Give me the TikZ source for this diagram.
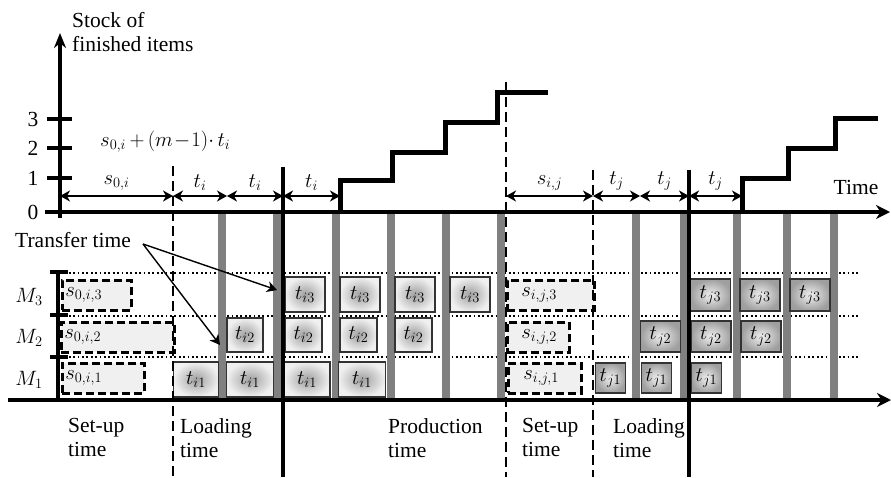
\documentclass[tikz,border=0pt]{standalone}
\usepackage{fontspec}
\setmainfont{Liberation Serif}
\usetikzlibrary{arrows.meta}
\newcommand\fs{\fontsize{21.5}{24}\selectfont}

\begin{document}
\begin{tikzpicture}[x=1pt, y=-1pt, >={Stealth[length=10pt, width=11pt, inset=3pt]},
  every node/.style={font=\fs, inner sep=0pt},
  axis/.style={line width=3.5pt},
  period/.style={line width=2.8pt, dash pattern=on 10pt off 5pt},
  tbar/.style={draw=gray, line width=8pt},
  lane/.style={line width=1.8pt, dash pattern=on 1.8pt off 2.6pt},
  setupbox/.style={draw, line width=2.6pt, dash pattern=on 8pt off 4pt,
    fill=gray!12, minimum height=30pt, align=left},
  ibox/.style={draw=black!80, line width=1.3pt, inner color=gray!75, outer color=gray!12},
  jbox/.style={draw=black!80, line width=1.3pt, inner color=gray!12, outer color=gray!75},
  dim/.style={<->, line width=1.4pt},
  stair/.style={line width=5pt}]
  \useasboundingbox (0,0) rectangle (891,477);
  % machine lanes and transfer bars
  \foreach \y in {273, 316, 357}
    \draw[lane] (60,\y) -- (860,\y);
  \foreach \x in {222, 277, 336, 391, 446, 501, 636, 684, 737, 787, 834}
    \draw[tbar] (\x,212) -- (\x,400);
  % set-up boxes
  \foreach \x/\y/\tw/\pad/\n/\lbl in {61/279/63pt/3pt/s03/{0,i,3}, 60/321/107pt/3pt/s02/{0,i,2},
                                      61/362/76pt/3pt/s01/{0,i,1}, 506/279/59pt/14pt/s13/{i,j,3},
                                      506/321/34pt/14pt/s12/{i,j,2}, 507/362/43pt/15pt/s11/{i,j,1}}
    \node[setupbox, anchor=north west, inner xsep=\pad, text width=\tw] (\n) at (\x,\y) {$s_{\lbl}$};
  % processing boxes
  \foreach \x [count=\k] in {305, 360, 415, 470}
    \node[ibox, minimum width=40pt, minimum height=35pt] (i3\k) at (\x,294.5) {$t_{i3}$};
  \foreach \x/\w [count=\k] in {245/36pt, 303.5/37pt, 358.5/37pt, 413.5/37pt}
    \node[ibox, minimum width=\w, minimum height=34pt] (i2\k) at (\x,335) {$t_{i2}$};
  \foreach \x/\w [count=\k] in {196/45pt, 250/47pt, 307/46pt, 362/47pt}
    \node[ibox, minimum width=\w, minimum height=35pt] (i1\k) at (\x,379.5) {$t_{i1}$};
  \foreach \x [count=\k] in {710.5, 760, 810}
    \node[jbox, minimum width=40pt, minimum height=32pt] (j3\k) at (\x,295) {$t_{j3}$};
  \foreach \x [count=\k] in {660.5, 711, 761}
    \node[jbox, minimum width=40pt, minimum height=31pt] (j2\k) at (\x,336.5) {$t_{j2}$};
  \foreach \x [count=\k] in {610.5, 656.5, 706.5}
    \node[jbox, minimum width=30pt, minimum height=30pt] (j1\k) at (\x,378) {$t_{j1}$};
  % axes
  \draw[axis, -{Stealth[length=15pt, width=12pt]}] (60,218) -- (60,33);
  \draw[axis, -{Stealth[length=14pt, width=14pt]}] (45,212) -- (890,212);
  \draw[axis, -{Stealth[length=14pt, width=14pt]}] (8,400) -- (891,400);
  \draw[axis] (58,272) -- (58,400);
  \foreach \y in {272, 315, 357}
    \draw[axis] (50,\y) -- (68,\y);
  \foreach \y/\n in {178/1, 148/2, 119/3}
    \draw[axis] (47,\y) -- (72,\y);
  \foreach \y/\n in {212/0, 178/1, 148/2, 119/3}
    \node (v\n) at (33,\y) {\n};
  \foreach \y/\m in {297/3, 338/2, 380/1}
    \node (m\m) at (29,\y) {$M_\m$};
  % phase borders
  \draw[period] (173,166) -- (173,477);
  \draw[axis] (283,167) -- (283,477);
  \draw[period] (506,82) -- (506,477);
  \draw[period] (593,170) -- (593,477);
  \draw[axis] (689,170) -- (689,477);
  % durations
  \foreach \n/\x in {a/60, b/173, c/227, d/283, e/340, f/506, g/593, h/640, k/689, l/742}
    \coordinate (\n) at (\x,196);
  \foreach \p/\q/\lbl in {a/b/s_{0,i}, b/c/t_i, c/d/t_i, d/e/t_i, f/g/s_{i,j}, g/h/t_j, h/k/t_j, k/l/t_j}
    \draw[dim] (\p) -- node[above=5pt] {$\lbl$} (\q);
  \node[anchor=west] (span) at (100,142) {$s_{0,i}\,{+}\,(m\!-\!1){\cdot}\,t_i$};
  % stock of finished items
  \draw[stair] (340,212) |- (392,180) |- (445,152) |- (497,122) |- (548,92);
  \draw[stair] (742,212) |- (788,178) |- (835,148) |- (878,118);
  \node[anchor=north west, align=left] (stock) at (72,12) {Stock of\\finished items};
  \node (time) at (856,187) {Time};
  % transfer time
  \node (tt) at (73,240) {Transfer time};
  \coordinate (ttsrc) at (143,244);
  \coordinate (tta) at (277,290);
  \coordinate (ttb) at (220,345);
  \draw[->, line width=1.4pt] (ttsrc) -- (tta);
  \draw[->, line width=1.4pt] (ttsrc) -- (ttb);
  % phases
  \foreach \x/\n/\txt in {68/su1/Set-up, 180/ld1/Loading, 388/pr/Production, 522/su2/Set-up, 613/ld2/Loading}
    \node[anchor=north west, align=left] (\n) at (\x,418) {\txt\\time};
\end{tikzpicture}
\end{document}
